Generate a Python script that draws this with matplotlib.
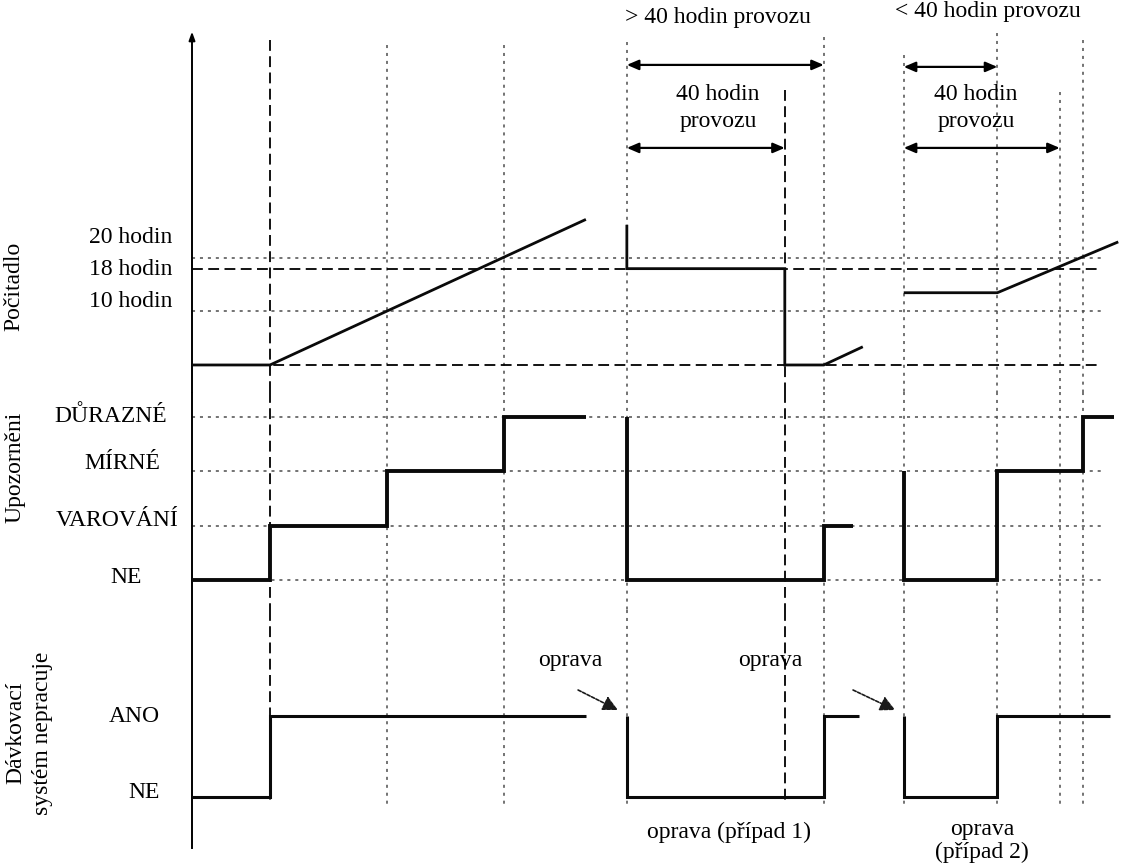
import matplotlib
matplotlib.use("Agg")
import matplotlib.pyplot as plt

plt.rcParams['font.family'] = ['Liberation Serif', 'DejaVu Serif']

# ---------------- data (time in arbitrary units, levels per panel) ----------------
# event times where the vertical reference lines are drawn
event_t = [2.0, 5.0, 8.0, 11.15, 15.2, 16.2, 18.25, 20.65, 22.25, 22.85]
event_dashed = [True, False, False, False, True, False, False, False, False, False]

# counter panel (hours)
counter_ticks = [20, 18, 10, 0]
counter_tick_dashed = [False, True, False, True]
counter_labels = ["20 hodin", "18 hodin", "10 hodin"]
counter_seg1_t = [0.0, 2.0, 10.1]
counter_seg1_v = [0.0, 0.0, 27.2]
counter_seg2_t = [11.15, 11.15, 15.2, 15.2, 16.2, 17.2]
counter_seg2_v = [26.2, 18.0, 18.0, 0.0, 0.0, 3.4]
counter_seg3_t = [18.25, 20.65, 23.75]
counter_seg3_v = [13.5, 13.5, 23.0]

# warning panel (0 = NE, 1 = VAROVÁNÍ, 2 = MÍRNÉ, 3 = DŮRAZNÉ)
warn_levels = [3, 2, 1, 0]
warn_labels = ["DŮRAZNÉ", "MÍRNÉ", "VAROVÁNÍ", "NE"]
warn_seg1_t = [0.0, 2.0, 2.0, 5.0, 5.0, 8.0, 8.0, 10.1]
warn_seg1_v = [0, 0, 1, 1, 2, 2, 3, 3]
warn_seg2_t = [11.15, 11.15, 16.2, 16.2, 16.95]
warn_seg2_v = [3, 0, 0, 1, 1]
warn_seg3_t = [18.25, 18.25, 20.65, 20.65, 22.85, 22.85, 23.65]
warn_seg3_v = [2, 0, 0, 2, 2, 3, 3]

# dosing-system panel (0 = NE, 1 = ANO)
dose_levels = [1, 0]
dose_labels = ["ANO", "NE"]
dose_seg1_t = [0.0, 2.0, 2.0, 10.1]
dose_seg1_v = [0, 0, 1, 1]
dose_seg2_t = [11.15, 11.15, 16.2, 16.2, 17.1]
dose_seg2_v = [1, 0, 0, 1, 1]
dose_seg3_t = [18.25, 18.25, 20.65, 20.65, 23.55]
dose_seg3_v = [1, 0, 0, 1, 1]

# ---------------- layout ----------------
W, H = 1123, 868
fig = plt.figure(figsize=(W / 100, H / 100), dpi=100)

def band(top_px, bot_px):
    return [0, 1 - bot_px / H, 1, (bot_px - top_px) / H]

ax_c = fig.add_axes(band(0, 392))
ax_w = fig.add_axes(band(392, 610))
ax_d = fig.add_axes(band(610, 868))

XL = (-192 / 39, (W - 192) / 39)
ax_c.set_ylim(-5.05, 68.2)
ax_w.set_ylim(-0.552, 3.46)
ax_d.set_ylim(-0.877, 2.309)
for ax in (ax_c, ax_w, ax_d):
    ax.set_xlim(*XL)
    ax.axis('off')

DOT = dict(color='0.3', lw=1.1, linestyle=(0, (2, 3.2)))
DASH = dict(color='black', lw=1.3, linestyle=(0, (6, 3)))
FS = 17

# vertical event lines
event_top = [60.7, 59.8, 59.8, 60.4, 51.4, 61.3, 57.9, 62.0, 51.0, 60.7]
for t, dashed, top in zip(event_t, event_dashed, event_top):
    st = DASH if dashed else DOT
    ax_c.plot([t, t], [top, -5.05], **st, zorder=1)
    ax_w.plot([t, t], [3.46, -0.552], **st, zorder=1)
    ax_d.plot([t, t], [2.309, -0.1], **st, zorder=1)

# y axis line with arrow
ax_d.plot([0, 0], [2.309, -0.63], color='black', lw=1.4, zorder=3)
ax_w.plot([0, 0], [3.46, -0.552], color='black', lw=1.4, zorder=3)
ax_c.annotate('', xy=(0, 62.3), xytext=(0, -5.05),
              arrowprops=dict(arrowstyle='-|>,head_length=0.5,head_width=0.18',
                              color='black', lw=1.4, shrinkA=0, shrinkB=0))

# horizontal reference lines
for v, dashed in zip(counter_ticks, counter_tick_dashed):
    ax_c.plot([0, 23.3], [v, v], **(DASH if dashed else DOT), zorder=1)
for v in warn_levels:
    ax_w.plot([0, 23.3], [v, v], **DOT, zorder=1)

# traces
TR = dict(color='#0a0a0a', solid_capstyle='butt', solid_joinstyle='miter', zorder=4)
for tt, vv in ((counter_seg1_t, counter_seg1_v), (counter_seg2_t, counter_seg2_v),
               (counter_seg3_t, counter_seg3_v)):
    ax_c.plot(tt, vv, lw=2.0, **TR)
for tt, vv in ((warn_seg1_t, warn_seg1_v), (warn_seg2_t, warn_seg2_v),
               (warn_seg3_t, warn_seg3_v)):
    ax_w.plot(tt, vv, lw=2.8, **TR)
for tt, vv in ((dose_seg1_t, dose_seg1_v), (dose_seg2_t, dose_seg2_v),
               (dose_seg3_t, dose_seg3_v)):
    ax_d.plot(tt, vv, lw=2.2, **TR)

# level labels
counter_label_y = [23.9, 17.76, 11.78]
for lab, y in zip(counter_labels, counter_label_y):
    ax_c.text(-0.51, y, lab, ha='right', va='center', fontsize=FS)
warn_label_x = [-2.08, -1.79, -1.92, -1.69]
warn_label_y = [3.0, 2.15, 1.1, 0.04]
for lab, x, y in zip(warn_labels, warn_label_x, warn_label_y):
    ax_w.text(x, y, lab, ha='center', va='center', fontsize=FS)
dose_label_y = [1.0, 0.06]
for lab, y in zip(dose_labels, dose_label_y):
    ax_d.text(-0.82, y, lab, ha='right', va='center', fontsize=FS)

# panel titles (rotated)
fig.text(14 / W, 1 - 286 / H, "Počitadlo", rotation=90, ha='center', va='center', fontsize=FS)
fig.text(15 / W, 1 - 467 / H, "Upozorněni", rotation=90, ha='center', va='center', fontsize=FS)
fig.text(29 / W, 1 - 733 / H, "Dávkovací\nsystém nepracuje", rotation=90, ha='center',
         va='center', multialignment='center', fontsize=FS, linespacing=1.35)

# duration annotations
DA = dict(arrowstyle='<|-|>,head_length=0.7,head_width=0.3', color='black', lw=1.6,
          shrinkA=0, shrinkB=0)
ax_c.annotate('', xy=(16.2, 56.07), xytext=(11.15, 56.07), arrowprops=DA)
ax_c.annotate('', xy=(15.2, 40.56), xytext=(11.15, 40.56), arrowprops=DA)
ax_c.annotate('', xy=(20.65, 55.7), xytext=(18.25, 55.7), arrowprops=DA)
ax_c.annotate('', xy=(22.25, 40.56), xytext=(18.25, 40.56), arrowprops=DA)
ax_c.text(13.49, 64.86, "> 40 hodin provozu", ha='center', va='center', fontsize=FS)
ax_c.text(13.49, 48.04, "40 hodin\nprovozu", ha='center', va='center', fontsize=FS,
          linespacing=1.35)
ax_c.text(20.4, 65.98, "< 40 hodin provozu", ha='center', va='center', fontsize=FS)
ax_c.text(20.1, 48.04, "40 hodin\nprovozu", ha='center', va='center', fontsize=FS,
          linespacing=1.35)

# repair annotations
RA = dict(arrowstyle='-|>,head_length=0.9,head_width=0.45', color='0.1', lw=1.2,
          linestyle=(0, (2, 1)), shrinkA=0, shrinkB=0)
ax_d.text(9.69, 1.69, "oprava", ha='center', va='center', fontsize=FS)
ax_d.text(14.82, 1.69, "oprava", ha='center', va='center', fontsize=FS)
ax_d.annotate('', xy=(10.92, 1.074), xytext=(9.9, 1.321), arrowprops=RA)
ax_d.annotate('', xy=(18.03, 1.074), xytext=(16.95, 1.321), arrowprops=RA)
ax_d.text(13.77, -0.432, "oprava (případ 1)", ha='center', va='center', fontsize=FS)
ax_d.text(20.26, -0.543, "oprava\n(případ 2)", ha='center', va='center', fontsize=FS,
          linespacing=1.15)

fig.savefig("out.png", dpi=100)
